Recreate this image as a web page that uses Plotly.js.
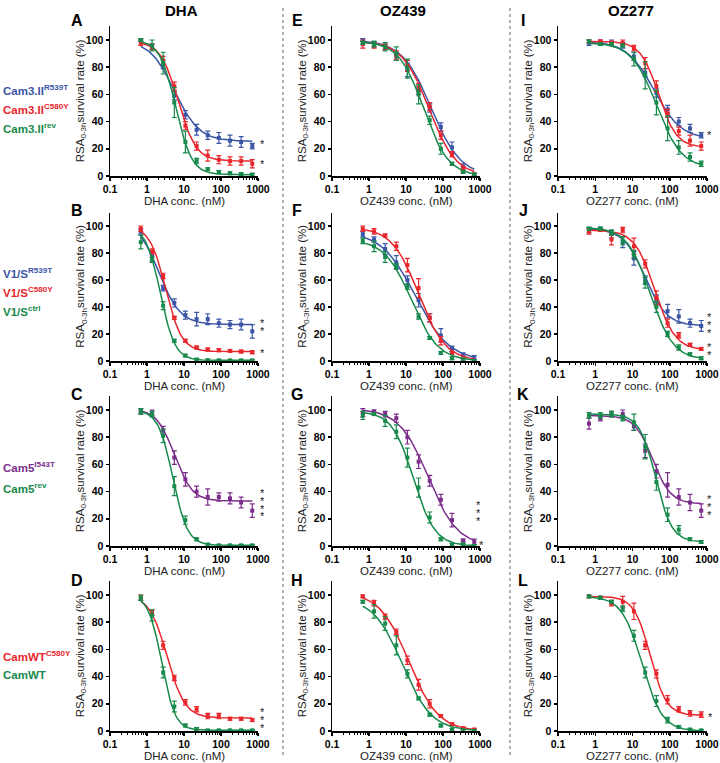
<!DOCTYPE html>
<html><head><meta charset="utf-8">
<script src="https://cdn.plot.ly/plotly-3.0.1.min.js"></script>
<style>html,body{margin:0;padding:0;background:#fff}#chart{width:720px;height:763px}</style>
</head><body><div id="chart"></div>
<script>
// ---------- data ----------
const conc = [0.68, 1.37, 2.73, 5.47, 10.9, 21.9, 43.8, 87.5, 175, 350, 700];
const xTickVals = [0.1, 1, 10, 100, 1000];
const xTickText = ['0.1', '1', '10', '100', '1000'];
const yTickVals = [0, 20, 40, 60, 80, 100];
const drugs = ['DHA', 'OZ439', 'OZ277'];

// fit params: [top, bottom, IC50 (nM), hill]
// Panel A  (Cam3.II, DHA)
const A_R539T = [100, 95, 82, 59, 45, 34, 30, 28, 26, 25, 22];
const A_R539T_err = [1, 2, 3, 3, 3, 4, 3, 4, 4, 4, 2];
const A_R539T_fit = [100, 25.5, 5.5, 1.3];
const A_C580Y = [98, 95, 85, 66, 37, 22, 15, 12, 11, 11, 9];
const A_C580Y_err = [2, 2, 3, 3, 3, 3, 4, 3, 3, 3, 3];
const A_C580Y_fit = [99, 11, 7, 1.8];
const A_rev = [100, 96, 83, 54, 25, 11, 5, 3, 2, 1.5, 1];
const A_rev_err = [1, 4, 8, 11, 8, 2, 1, 1, 1, 1, 1];
const A_rev_fit = [100, 1, 6, 2];
// Panel B  (V1/S, DHA)
const B_R539T = [96, 77, 54, 43, 34, 31, 31, 28, 27, 27, 22];
const B_R539T_err = [2, 3, 2, 3, 3, 5, 4, 3, 3, 4, 5];
const B_R539T_fit = [104, 27, 2.1, 1.5];
const B_C580Y = [98, 81, 63, 32, 15, 10, 8.5, 8, 7.5, 7, 6.5];
const B_C580Y_err = [2, 2, 2, 1, 1, 1, 1, 1, 1, 1, 1];
const B_C580Y_fit = [100, 7, 3.2, 2.0];
const B_ctrl = [88, 75, 41, 15, 4, 1, 0.5, 0.5, 0.5, 0.5, 0.5];
const B_ctrl_err = [5, 2, 3, 1, 1, 1, 1, 0.5, 0.5, 0.5, 0.5];
const B_ctrl_fit = [100, 0.5, 2.3, 2.2];
// Panel C  (Cam5, DHA)
const C_I543T = [99, 98, 85, 65, 49, 40, 36, 36, 35, 32, 26];
const C_I543T_err = [2, 2, 3, 5, 5, 4, 6, 3, 4, 4, 5];
const C_I543T_fit = [101, 33, 5.5, 1.8];
const C_rev = [99, 97, 81, 44, 19, 5, 1, 0.5, 0.5, 0.5, 0.5];
const C_rev_err = [2, 2, 5, 7, 3, 1, 1, 0.5, 0.5, 0.5, 0.5];
const C_rev_fit = [100, 0.5, 5, 2.2];
// Panel D  (CamWT, DHA)
const D_C580Y = [98, 87, 63, 39, 21, 16, 11, 11, 9, 9, 8];
const D_C580Y_err = [2, 2, 3, 2, 2, 2, 2, 2, 1, 1, 1];
const D_C580Y_fit = [100, 9.5, 3.5, 1.8];
const D_WT = [98, 85, 43, 18, 4, 1.5, 0.5, 0.5, 0.5, 0.5, 0.5];
const D_WT_err = [2, 4, 4, 4, 1, 1, 0.5, 0.5, 0.5, 0.5, 0.5];
const D_WT_fit = [100, 0.5, 2.5, 2.4];
// Panel E  (Cam3.II, OZ439)
const E_R539T = [100, 97, 95, 88, 78, 63, 50, 36, 21, 7, 1];
const E_R539T_err = [1, 2, 2, 3, 5, 3, 3, 3, 4, 2, 1];
const E_R539T_fit = [100, 0, 48, 1.1];
const E_C580Y = [97, 96, 95, 89, 81, 65, 51, 30, 16, 5, 1];
const E_C580Y_err = [3, 2, 2, 3, 4, 3, 3, 3, 2, 2, 1];
const E_C580Y_fit = [99, 0, 42, 1.2];
const E_rev = [98, 97, 95, 90, 79, 60, 41, 20, 9, 3, 1];
const E_rev_err = [1, 2, 3, 5, 7, 7, 3, 4, 1, 1, 1];
const E_rev_fit = [99, 0, 30, 1.3];
// Panel F  (V1/S, OZ439)
const F_R539T = [94, 90, 83, 73, 60, 45, 32, 19, 9, 4, 2];
const F_R539T_err = [2, 2, 4, 5, 3, 5, 3, 5, 2, 2, 2];
const F_R539T_fit = [96, 0, 18, 0.95];
const F_C580Y = [98, 96, 93, 85, 71, 54, 32, 15, 6, 1, 0];
const F_C580Y_err = [2, 2, 1, 3, 5, 7, 3, 3, 1, 1, 1];
const F_C580Y_fit = [99, 0, 22, 1.2];
const F_ctrl = [89, 85, 77, 70, 55, 33, 17, 6, 2, 1, 0];
const F_ctrl_err = [2, 4, 4, 2, 2, 2, 1, 1, 1, 1, 1];
const F_ctrl_fit = [90, 0, 14, 1.2];
// Panel G  (Cam5, OZ439)
const G_I543T = [98, 99, 97, 94, 80, 62, 48, 34, 19, 4, 3];
const G_I543T_err = [3, 1, 2, 3, 5, 5, 4, 4, 5, 1, 2];
const G_I543T_fit = [101, 0, 40, 1.1];
const G_rev = [96, 97, 92, 84, 65, 43, 21, 5, 1, 1, 0];
const G_rev_err = [3, 1, 4, 5, 7, 7, 4, 1, 1, 1, 1];
const G_rev_fit = [99, 0, 16, 1.5];
// Panel H  (CamWT, OZ439)
const H_C580Y = [99, 94, 84, 73, 52, 34, 20, 11, 5, 2, 1];
const H_C580Y_err = [1, 2, 2, 2, 3, 4, 3, 1, 1, 1, 1];
const H_C580Y_fit = [102, 0, 12, 1.1];
const H_WT = [95, 88, 79, 63, 42, 24, 12, 4, 1, 0, 0];
const H_WT_err = [1, 5, 5, 7, 3, 1, 1, 1, 1, 1, 1];
const H_WT_fit = [98, 0, 8, 1.1];
// Panel I  (Cam3.II, OZ277)
const I_R539T = [98, 98, 98, 96, 88, 76, 61, 49, 40, 35, 30];
const I_R539T_err = [2, 2, 2, 2, 3, 3, 3, 3, 3, 3, 2];
const I_R539T_fit = [99, 27, 38, 1.2];
const I_C580Y = [99, 99, 98, 98, 94, 83, 66, 46, 33, 26, 22];
const I_C580Y_err = [1, 1, 1, 2, 2, 4, 4, 3, 3, 4, 3];
const I_C580Y_fit = [99, 21, 50, 1.8];
const I_rev = [99, 97, 97, 96, 86, 74, 54, 35, 21, 14, 9];
const I_rev_err = [1, 1, 1, 1, 5, 10, 9, 9, 5, 3, 2];
const I_rev_fit = [98, 6, 44, 1.3];
// Panel J  (V1/S, OZ277)
const J_R539T = [97, 98, 94, 88, 76, 60, 46, 37, 33, 28, 26];
const J_R539T_err = [2, 1, 3, 4, 5, 3, 3, 5, 5, 3, 4];
const J_R539T_fit = [98, 26, 22, 1.5];
const J_C580Y = [96, 97, 90, 97, 85, 72, 47, 28, 19, 12, 9];
const J_C580Y_err = [2, 1, 4, 2, 6, 3, 5, 3, 2, 1, 1];
const J_C580Y_fit = [97, 8, 40, 1.6];
const J_ctrl = [98, 98, 95, 89, 79, 58, 40, 20, 10, 5, 2];
const J_ctrl_err = [1, 1, 2, 3, 3, 4, 4, 2, 2, 1, 1];
const J_ctrl_fit = [99, 1, 30, 1.4];
// Panel K  (Cam5, OZ277)
const K_I543T = [90, 94, 97, 97, 88, 70, 55, 45, 36, 32, 26];
const K_I543T_err = [4, 2, 2, 3, 3, 5, 5, 9, 6, 6, 5];
const K_I543T_fit = [96, 31, 35, 1.8];
const K_rev = [96, 96, 97, 94, 91, 73, 47, 23, 12, 5, 3];
const K_rev_err = [2, 2, 2, 2, 6, 9, 6, 5, 3, 1, 1];
const K_rev_fit = [97, 3, 42, 2.0];
// Panel L  (CamWT, OZ277)
const L_C580Y = [99, 98, 94, 95, 88, 63, 42, 23, 16, 13, 12];
const L_C580Y_err = [1, 1, 2, 4, 6, 3, 3, 3, 2, 2, 2];
const L_C580Y_fit = [99, 11.5, 30, 2.0];
const L_WT = [99, 98, 95, 90, 70, 43, 22, 8, 3, 1, 0.5];
const L_WT_err = [1, 1, 1, 2, 4, 4, 4, 2, 1, 1, 0.5];
const L_WT_fit = [99, 0, 18, 1.6];

// strain labels per row
const rowStrains = [
  ['Cam3.II<sup>R539T</sup>', 'Cam3.II<sup>C580Y</sup>', 'Cam3.II<sup>rev</sup>'],
  ['V1/S<sup>R539T</sup>', 'V1/S<sup>C580Y</sup>', 'V1/S<sup>ctrl</sup>'],
  ['Cam5<sup>I543T</sup>', 'Cam5<sup>rev</sup>'],
  ['CamWT<sup>C580Y</sup>', 'CamWT']
];
// significance marks per panel (one entry per group of stars)
const significance = {A: ['*', '*'], B: ['**', '*'], C: ['****'], D: ['***'], G: ['***', '*'], I: ['*'], J: ['***', '**'], K: ['***'], L: ['*']};

// ---------- styling / layout ----------
const C_BLUE = '#3a55a6', C_RED = '#e8262c', C_GREEN = '#178a4c', C_PURPLE = '#7b2d8b';
const rowColors = [[C_BLUE, C_RED, C_GREEN], [C_BLUE, C_RED, C_GREEN], [C_PURPLE, C_GREEN], [C_RED, C_GREEN]];
const W = 720, H = 763;
const PX = p => p / W, PY = p => 1 - p / H;
const colX = [[110, 258], [332, 480], [558, 707]];
const rowY = [[26.4, 176], [212.5, 361], [396.4, 546], [581.4, 731]]; // top(110), bottom(0)

const panelData = {
  A: [[A_R539T, A_R539T_err, A_R539T_fit], [A_C580Y, A_C580Y_err, A_C580Y_fit], [A_rev, A_rev_err, A_rev_fit]],
  B: [[B_R539T, B_R539T_err, B_R539T_fit], [B_C580Y, B_C580Y_err, B_C580Y_fit], [B_ctrl, B_ctrl_err, B_ctrl_fit]],
  C: [[C_I543T, C_I543T_err, C_I543T_fit], [C_rev, C_rev_err, C_rev_fit]],
  D: [[D_C580Y, D_C580Y_err, D_C580Y_fit], [D_WT, D_WT_err, D_WT_fit]],
  E: [[E_R539T, E_R539T_err, E_R539T_fit], [E_C580Y, E_C580Y_err, E_C580Y_fit], [E_rev, E_rev_err, E_rev_fit]],
  F: [[F_R539T, F_R539T_err, F_R539T_fit], [F_C580Y, F_C580Y_err, F_C580Y_fit], [F_ctrl, F_ctrl_err, F_ctrl_fit]],
  G: [[G_I543T, G_I543T_err, G_I543T_fit], [G_rev, G_rev_err, G_rev_fit]],
  H: [[H_C580Y, H_C580Y_err, H_C580Y_fit], [H_WT, H_WT_err, H_WT_fit]],
  I: [[I_R539T, I_R539T_err, I_R539T_fit], [I_C580Y, I_C580Y_err, I_C580Y_fit], [I_rev, I_rev_err, I_rev_fit]],
  J: [[J_R539T, J_R539T_err, J_R539T_fit], [J_C580Y, J_C580Y_err, J_C580Y_fit], [J_ctrl, J_ctrl_err, J_ctrl_fit]],
  K: [[K_I543T, K_I543T_err, K_I543T_fit], [K_rev, K_rev_err, K_rev_fit]],
  L: [[L_C580Y, L_C580Y_err, L_C580Y_fit], [L_WT, L_WT_err, L_WT_fit]]
};
const letters = [['A', 'B', 'C', 'D'], ['E', 'F', 'G', 'H'], ['I', 'J', 'K', 'L']];
const letterY = [20, 211, 394, 580];
const letterX = [77, 297, 523];
// centre of each star group (px)
const starPos = {
  A: [[262, 141], [262, 161]],
  B: [[262, 324], [262, 350]],
  C: [[262, 502]],
  D: [[262, 717]],
  G: [[478, 510], [482, 542]],
  I: [[709, 132]],
  J: [[709, 322], [709, 348]],
  K: [[709, 504]],
  L: [[710, 714]]
};
const labelY = [[90, 109, 128], [273, 292, 311], [467, 488], [656, 675]];

const FONT = 'Liberation Sans, Arial, sans-serif';
const minorVals = [];
[0.1, 1, 10, 100].forEach(d => { for (let k = 2; k <= 9; k++) minorVals.push(d * k); });

function fitCurve(p) {
  const [top, bottom, ic50, hill] = p;
  const xs = [], ys = [];
  const n = 80, l0 = Math.log10(conc[0]), l1 = Math.log10(conc[conc.length - 1]);
  for (let i = 0; i <= n; i++) {
    const c = Math.pow(10, l0 + (l1 - l0) * i / n);
    xs.push(c);
    ys.push(bottom + (top - bottom) / (1 + Math.pow(c / ic50, hill)));
  }
  return [xs, ys];
}

const traces = [];
const layout = {
  width: W, height: H, margin: {l: 0, r: 0, t: 0, b: 0},
  paper_bgcolor: '#fff', plot_bgcolor: 'rgba(0,0,0,0)',
  showlegend: false, font: {family: FONT, color: '#000'},
  annotations: [], shapes: []
};

for (let col = 0; col < 3; col++) {
  for (let row = 0; row < 4; row++) {
    const idx = col * 4 + row + 1;
    const xa = idx === 1 ? 'xaxis' : 'xaxis' + idx;
    const ya = idx === 1 ? 'yaxis' : 'yaxis' + idx;
    const xr = idx === 1 ? 'x' : 'x' + idx;
    const yr = idx === 1 ? 'y' : 'y' + idx;
    const letter = letters[col][row];
    layout[xa] = {
      type: 'log', range: [-1, 3], domain: [PX(colX[col][0]), PX(colX[col][1])], anchor: yr,
      showline: true, linewidth: 1.5, linecolor: '#000', mirror: false,
      ticks: 'outside', ticklen: 3, tickwidth: 1.5, tickcolor: '#000',
      tickmode: 'array', tickvals: xTickVals, ticktext: xTickText.map(t => '<b>' + t + '</b>'),
      tickfont: {family: FONT, size: 10.5, color: '#000'},
      minor: {tickmode: 'array', tickvals: minorVals, ticks: 'outside', ticklen: 2, tickwidth: 1, tickcolor: '#000', showgrid: false},
      showgrid: false, zeroline: false, fixedrange: true
    };
    layout[ya] = {
      range: [0, 110], domain: [PY(rowY[row][1]), PY(rowY[row][0])], anchor: xr,
      showline: true, linewidth: 1.5, linecolor: '#000',
      ticks: 'outside', ticklen: 3, tickwidth: 1.5, tickcolor: '#000',
      tickmode: 'array', tickvals: yTickVals, ticktext: yTickVals.map(t => '<b>' + t + '</b>'),
      tickfont: {family: FONT, size: 10.5, color: '#000'},
      showgrid: false, zeroline: false, fixedrange: true
    };
    panelData[letter].forEach((s, si) => {
      const color = rowColors[row][si];
      const [xs, ys] = fitCurve(s[2]);
      traces.push({x: xs, y: ys, xaxis: xr, yaxis: yr, mode: 'lines', line: {color: color, width: 1.5}, hoverinfo: 'skip', cliponaxis: false});
      traces.push({x: conc, y: s[0], xaxis: xr, yaxis: yr, mode: 'markers', cliponaxis: false,
        marker: {symbol: 'square', size: 4, color: color},
        error_y: {type: 'data', array: s[1], visible: true, color: color, thickness: 1.2, width: 2.5}});
    });
    // panel letter
    layout.annotations.push({xref: 'paper', yref: 'paper', x: PX(letterX[col]), y: PY(letterY[row]), text: '<b>' + letter + '</b>',
      showarrow: false, xanchor: 'center', yanchor: 'middle', font: {family: FONT, size: 16, color: '#000'}});
    // y title
    const ymid = (rowY[row][0] + rowY[row][1]) / 2;
    layout.annotations.push({xref: 'paper', yref: 'paper', x: PX(colX[col][0] - 29), y: PY(ymid), textangle: -90,
      text: 'RSA<sub>0-3h</sub>survival rate (%)', showarrow: false, xanchor: 'center', yanchor: 'middle',
      font: {family: FONT, size: 11.5, color: '#222'}});
    // x title
    layout.annotations.push({xref: 'paper', yref: 'paper', x: PX((colX[col][0] + colX[col][1]) / 2), y: PY(rowY[row][1] + 25),
      text: drugs[col] + ' conc. (nM)', showarrow: false, xanchor: 'center', yanchor: 'middle',
      font: {family: FONT, size: 11.5, color: '#222'}});
    // stars (one text block per group, tight line spacing)
    if (significance[letter]) {
      significance[letter].forEach((s, gi) => {
        const p = starPos[letter][gi];
        const txt = s.split('').map(ch => '<span style="font-size:11px">' + ch + '</span>').join('<br>');
        layout.annotations.push({xref: 'paper', yref: 'paper', x: PX(p[0]), y: PY(p[1] + 3), text: txt,
          showarrow: false, xanchor: 'center', yanchor: 'middle', font: {family: FONT, size: 6, color: '#222222'}});
      });
    }
  }
}
// column headers
const headerX = [181, 403, 631];
drugs.forEach((d, i) => layout.annotations.push({xref: 'paper', yref: 'paper', x: PX(headerX[i]), y: PY(10), text: '<b>' + d + '</b>',
  showarrow: false, xanchor: 'center', yanchor: 'middle', font: {family: FONT, size: 15, color: '#000'}}));
// row strain labels
rowStrains.forEach((labels, r) => labels.forEach((t, i) => layout.annotations.push({xref: 'paper', yref: 'paper', x: PX(1), y: PY(labelY[r][i]),
  text: '<b>' + t + '</b>', showarrow: false, xanchor: 'left', yanchor: 'middle', font: {family: FONT, size: 11.5, color: rowColors[r][i]}})));
// dotted separators
[283, 510].forEach(x => layout.shapes.push({type: 'line', xref: 'paper', yref: 'paper', x0: PX(x), x1: PX(x), y0: PY(8), y1: PY(757),
  line: {color: '#9a9a9a', width: 1.5, dash: 'dot'}}));

Plotly.newPlot('chart', traces, layout, {displayModeBar: false, staticPlot: true});
</script>
</body></html>
